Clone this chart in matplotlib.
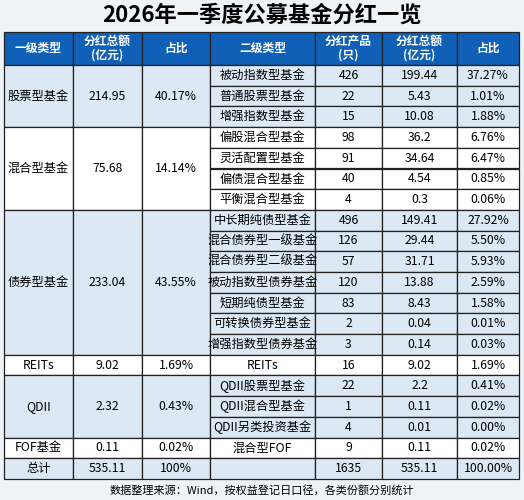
import matplotlib.pyplot as plt
from matplotlib.patches import Rectangle

plt.rcParams['font.family'] = ['Noto Sans CJK SC', 'DejaVu Sans']

title = "2026年一季度公募基金分红一览"
headers = ["一级类型", "分红总额\n(亿元)", "占比", "二级类型", "分红产品\n(只)", "分红总额\n(亿元)", "占比"]
level1 = ["股票型基金", "混合型基金", "债券型基金", "REITs", "QDII", "FOF基金"]
level1_amount = ["214.95", "75.68", "233.04", "9.02", "2.32", "0.11"]
level1_share = ["40.17%", "14.14%", "43.55%", "1.69%", "0.43%", "0.02%"]
level1_count = [3, 4, 7, 1, 3, 1]
level2 = ["被动指数型基金", "普通股票型基金", "增强指数型基金",
          "偏股混合型基金", "灵活配置型基金", "偏债混合型基金", "平衡混合型基金",
          "中长期纯债型基金", "混合债券型一级基金", "混合债券型二级基金", "被动指数型债券基金",
          "短期纯债型基金", "可转换债券型基金", "增强指数型债券基金",
          "REITs", "QDII股票型基金", "QDII混合型基金", "QDII另类投资基金", "混合型FOF"]
level2_products = ["426", "22", "15", "98", "91", "40", "4", "496", "126", "57", "120",
                   "83", "2", "3", "16", "22", "1", "4", "9"]
level2_amount = ["199.44", "5.43", "10.08", "36.2", "34.64", "4.54", "0.3", "149.41", "29.44",
                 "31.71", "13.88", "8.43", "0.04", "0.14", "9.02", "2.2", "0.11", "0.01", "0.11"]
level2_share = ["37.27%", "1.01%", "1.88%", "6.76%", "6.47%", "0.85%", "0.06%", "27.92%",
                "5.50%", "5.93%", "2.59%", "1.58%", "0.01%", "0.03%", "1.69%", "0.41%",
                "0.02%", "0.00%", "0.02%"]
total = ["总计", "535.11", "100%", "", "1635", "535.11", "100.00%"]
source = "数据整理来源：Wind，按权益登记日口径，各类份额分别统计"

cols = [4, 73, 142, 210, 315, 382, 457, 519]
top_h, head_h, row_h = 32, 33, 20.7
blue = "#1060b8"
light = "#dce8f4"
white = "#ffffff"
group_bg = [light, white, light, white, light, white]

fig = plt.figure(figsize=(5.24, 5.0), dpi=100)
fig.patch.set_facecolor("#eef3f8")
ax = fig.add_axes([0, 0, 1, 1])
ax.set_xlim(0, 524)
ax.set_ylim(500, 0)
ax.axis("off")

def cell(x0, x1, y0, y1, fc, text, color="black", size=8.8, weight="normal"):
    ax.add_patch(Rectangle((x0, y0), x1 - x0, y1 - y0, facecolor=fc,
                           edgecolor="#222222", linewidth=0.9))
    ax.text((x0 + x1) / 2, (y0 + y1) / 2, text, ha="center", va="center",
            color=color, fontsize=size, fontweight=weight, linespacing=1.1)

ax.text(262, 15, title, ha="center", va="center", fontsize=16, fontweight="bold")

for i, h in enumerate(headers):
    cell(cols[i], cols[i + 1], top_h, top_h + head_h, blue, h, "white", 8.5, "bold")

y = top_h + head_h
r = 0
for g, n in enumerate(level1_count):
    y_end = y + n * row_h
    bg = group_bg[g]
    cell(cols[0], cols[1], y, y_end, bg, level1[g])
    cell(cols[1], cols[2], y, y_end, bg, level1_amount[g])
    cell(cols[2], cols[3], y, y_end, bg, level1_share[g])
    for k in range(n):
        yy = y + k * row_h
        vals = [level2[r], level2_products[r], level2_amount[r], level2_share[r]]
        for j, v in enumerate(vals):
            cell(cols[3 + j], cols[4 + j], yy, yy + row_h, bg, v)
        r += 1
    y = y_end

for i, t in enumerate(total):
    cell(cols[i], cols[i + 1], y, y + row_h, light, t)

ax.text(262, y + row_h + 11, source, ha="center", va="center", fontsize=8)

fig.savefig("out.png", dpi=100, facecolor=fig.get_facecolor())
